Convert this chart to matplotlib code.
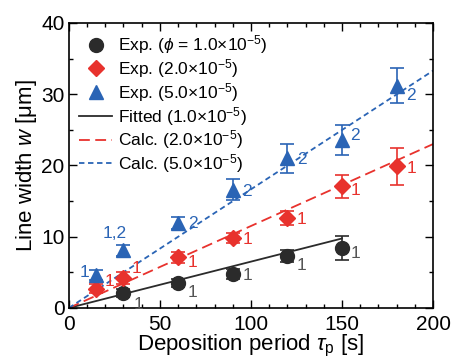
import matplotlib
matplotlib.use("Agg")
import matplotlib.pyplot as plt
import numpy as np
from matplotlib.ticker import MultipleLocator
from matplotlib.lines import Line2D

plt.rcParams['font.family'] = ['Liberation Sans', 'DejaVu Sans']
plt.rcParams['mathtext.fontset'] = 'custom'
plt.rcParams['mathtext.rm'] = 'Liberation Sans'
plt.rcParams['mathtext.it'] = 'Liberation Sans:italic'

# data
x_black = [30, 60, 90, 120, 150]
y_black = [2.1, 3.5, 4.7, 7.3, 8.4]
e_black = [0.5, 0.6, 0.7, 0.9, 1.7]
l_black = ["1", "1", "1", "1", "1"]

x_red = [15, 30, 60, 90, 120, 150, 180]
y_red = [2.7, 4.2, 7.1, 9.8, 12.6, 17.1, 19.9]
e_red = [0.6, 0.8, 0.8, 0.7, 1.0, 1.6, 2.6]
l_red = ["1", "1", "1", "1", "1", "1", "1"]

x_blue = [15, 30, 60, 90, 120, 150, 180]
y_blue = [4.6, 8.1, 11.9, 16.6, 21.0, 23.6, 31.2]
e_blue = [0.7, 0.8, 0.8, 1.5, 2.0, 2.1, 2.45]
l_blue = ["1", "1,2", "2", "2", "2", "2", "2"]

slope_black = 0.065
slope_red = 0.115
slope_blue = 0.1665
xfit_black = [0, 150]
xfit_calc = [0, 200]

# label placement (offset points, horizontal alignment) - style only
off_black = [(7, -8), (7, -7), (7, -1), (7, -7), (6, -4)]
off_red = [(6, 5), (6, 7), (7, -4), (7, -1), (7, -1), (6, -3), (7, -2)]
off_blue = [(-5, 2), (-6, 12), (7, 0), (7, -1), (7, -1), (6, 3), (7, -7)]
ha_blue = ['right', 'center', 'left', 'left', 'left', 'left', 'left']

c_black = '#2b2b2b'
c_red = '#e8322d'
c_blue = '#2a64b5'

fig = plt.figure(figsize=(4.53, 3.64), dpi=100)
ax = fig.add_axes([0.152, 0.154, 0.804, 0.783])

ax.plot(xfit_black, [slope_black * v for v in xfit_black], '-', color=c_black, lw=1.3)
ax.plot(xfit_calc, [slope_red * v for v in xfit_calc], '--', color=c_red, lw=1.3, dashes=(6, 3))
ax.plot(xfit_calc, [slope_blue * v for v in xfit_calc], '--', color=c_blue, lw=1.3, dashes=(3, 2))

ax.errorbar(x_black, y_black, yerr=e_black, fmt='o', color=c_black, ms=10, capsize=5, elinewidth=1.2, capthick=1.2)
ax.errorbar(x_red, y_red, yerr=e_red, fmt='D', color=c_red, ms=8.5, capsize=5, elinewidth=1.2, capthick=1.2)
ax.errorbar(x_blue, y_blue, yerr=e_blue, fmt='^', color=c_blue, ms=10, capsize=5, elinewidth=1.2, capthick=1.2)

fs_ann = 12.5
for xv, yv, lv, off in zip(x_black, y_black, l_black, off_black):
    ax.annotate(lv, (xv, yv), xytext=off, textcoords='offset points', color='#555555',
                fontsize=fs_ann, va='center', ha='left')
for xv, yv, lv, off in zip(x_red, y_red, l_red, off_red):
    ax.annotate(lv, (xv, yv), xytext=off, textcoords='offset points', color=c_red,
                fontsize=fs_ann, va='center', ha='left')
for xv, yv, lv, off, ha in zip(x_blue, y_blue, l_blue, off_blue, ha_blue):
    ax.annotate(lv, (xv, yv), xytext=off, textcoords='offset points', color=c_blue,
                fontsize=fs_ann, va='center', ha=ha)

handles = [
    Line2D([], [], ls='none', marker='o', ms=10, color=c_black),
    Line2D([], [], ls='none', marker='D', ms=8.5, color=c_red),
    Line2D([], [], ls='none', marker='^', ms=10, color=c_blue),
    Line2D([], [], ls='-', lw=1.3, color=c_black),
    Line2D([], [], ls='--', lw=1.3, dashes=(6, 3), color=c_red),
    Line2D([], [], ls='--', lw=1.3, dashes=(3, 2), color=c_blue),
]
labels = ['Exp. ($\\phi$ = 1.0×10$^{-5}$)', 'Exp. (2.0×10$^{-5}$)', 'Exp. (5.0×10$^{-5}$)',
          'Fitted (1.0×10$^{-5}$)', 'Calc. (2.0×10$^{-5}$)', 'Calc. (5.0×10$^{-5}$)']
ax.legend(handles, labels, loc='upper left', frameon=False, fontsize=12.5, handlelength=1.9,
          handletextpad=0.35, labelspacing=0.05, borderaxespad=0.2, bbox_to_anchor=(0.0, 1.0))

ax.set_xlim(0, 200)
ax.set_ylim(0, 40)
ax.xaxis.set_major_locator(MultipleLocator(50))
ax.xaxis.set_minor_locator(MultipleLocator(10))
ax.yaxis.set_major_locator(MultipleLocator(10))
ax.yaxis.set_minor_locator(MultipleLocator(5))
ax.tick_params(which='both', direction='in', top=True, right=True, labelsize=15, width=1)
ax.tick_params(which='major', length=6, pad=2)
ax.tick_params(axis='y', which='major', pad=3)
ax.tick_params(axis='x', which='major', pad=5)
ax.tick_params(which='minor', length=3)
for s in ax.spines.values():
    s.set_linewidth(1.2)

ax.set_xlabel('Deposition period $\\tau_{\\mathrm{p}}$ [s]', fontsize=16, labelpad=-1)
ax.set_ylabel('Line width $w$ [μm]', fontsize=16, labelpad=2)

fig.savefig('out.png', dpi=100)
